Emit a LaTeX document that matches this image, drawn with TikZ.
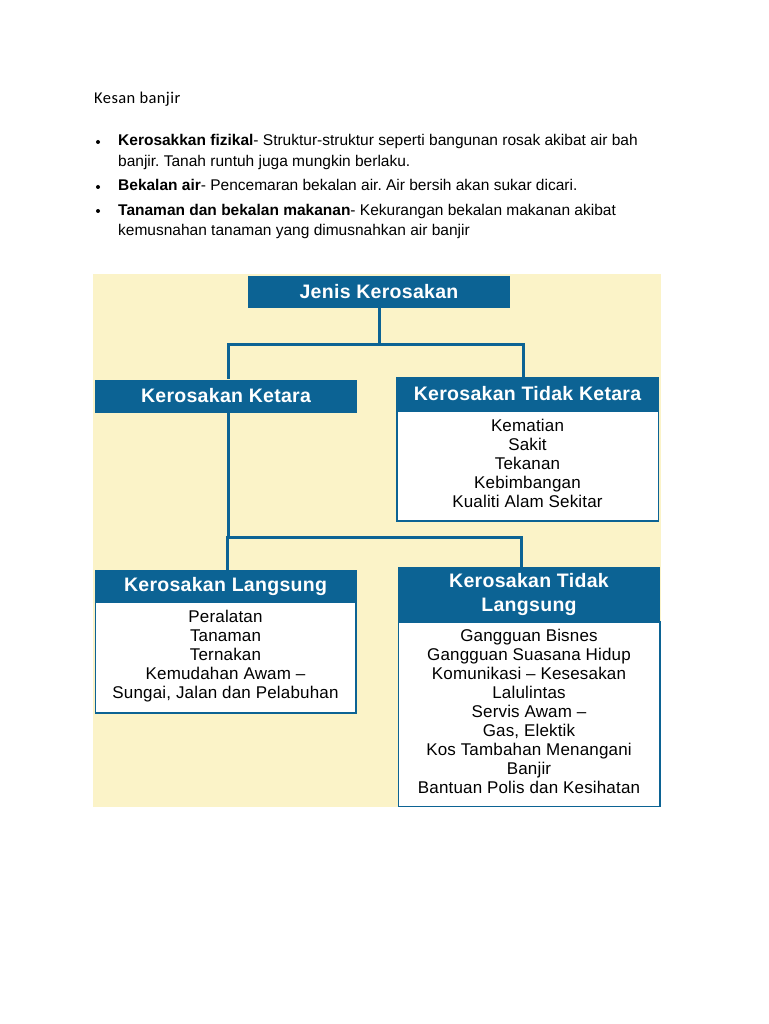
\documentclass[tikz,border=0pt]{standalone}
\usepackage{fontspec}
\setmainfont{Liberation Sans}
\newfontfamily\hdrfont[LetterSpace=1.5]{Liberation Sans}
\newfontfamily\bodyfont[LetterSpace=1]{Liberation Sans}
\newfontfamily\titlefont[LetterSpace=2.5]{Carlito}
\definecolor{kblue}{RGB}{12,99,148}
\definecolor{kcream}{RGB}{251,243,200}
\frenchspacing
\begin{document}
\begin{tikzpicture}[x=1pt,y=-1pt,
  hdr/.style={fill=kblue,text=white,inner sep=0pt,font=\hdrfont\bfseries\fontsize{19.5}{24}\selectfont,align=center},
  bodybox/.style={fill=white,draw=kblue,line width=1.5pt},
  bodytxt/.style={inner sep=0pt,font=\bodyfont\fontsize{17}{19.1}\selectfont,align=center,anchor=north},
  conn/.style={draw=kblue,line width=3pt},
  para/.style={inner sep=0pt,anchor=base west,font=\fontsize{15.5}{19}\selectfont},
  dot/.style={circle,fill=black,inner sep=0pt,minimum size=4pt}]
\useasboundingbox (0,0) rectangle (768,1024);
\fill[white] (0,0) rectangle (768,1024);
% text above
\node[inner sep=0pt,anchor=base west,font=\titlefont\fontsize{16.5}{19}\selectfont] (title) at (94,104) {Kesan banjir};
\node[dot] (b1) at (98,142) {};
\node[dot] (b2) at (98,187) {};
\node[dot] (b3) at (98,211) {};
\node[para] (p1) at (118,146) {\textbf{Kerosakkan fizikal}- Struktur-struktur seperti bangunan rosak akibat air bah};
\node[para] (p1b) at (118,167) {banjir. Tanah runtuh juga mungkin berlaku.};
\node[para] (p2) at (118,191) {\textbf{Bekalan air}- Pencemaran bekalan air. Air bersih akan sukar dicari.};
\node[para] (p3) at (118,215) {\textbf{Tanaman dan bekalan makanan}- Kekurangan bekalan makanan akibat};
\node[para] (p3b) at (118,236) {kemusnahan tanaman yang dimusnahkan air banjir};
% background
\fill[kcream] (93,274) rectangle (661,807);
% body boxes
\draw[bodybox] (397,411) rectangle (658.5,521);
\draw[bodybox] (95.5,602) rectangle (356,713);
\draw[bodybox] (398.5,622) rectangle (660,806.5);
% headers
\node[hdr,minimum width=262pt,minimum height=32pt] (jenis) at (379,292) {Jenis Kerosakan};
\node[hdr,minimum width=262pt,minimum height=33pt] (ketara) at (226,396) {Kerosakan Ketara};
\node[hdr,minimum width=263pt,minimum height=34pt] (tketara) at (527.5,394) {Kerosakan Tidak Ketara};
\node[hdr,minimum width=262pt,minimum height=32pt] (langsung) at (225.5,586) {Kerosakan Langsung};
\node[hdr,minimum width=262pt,minimum height=55pt] (tlangsung) at (529,594.5) {Kerosakan Tidak\\Langsung};
% connectors
\draw[conn] (jenis.south) |- (229,344) -| ([xshift=2pt]ketara.north);
\draw[conn] (jenis.south) |- (523,344) -| ([xshift=-4.5pt]tketara.north);
\draw[conn] ([xshift=2pt]ketara.south) |- (521,537) -| ([xshift=-8pt]tlangsung.north);
\draw[conn] ([xshift=2pt]ketara.south) |- (227.5,537) -- ([xshift=2pt]langsung.north);
% body texts
\node[bodytxt] (tkbody) at (527.5,419) {Kematian\\Sakit\\Tekanan\\Kebimbangan\\Kualiti Alam Sekitar};
\node[bodytxt] (lbody) at (225.5,610) {Peralatan\\Tanaman\\Ternakan\\Kemudahan Awam –\\Sungai, Jalan dan Pelabuhan};
\node[bodytxt] (tlbody) at (529,628.5) {Gangguan Bisnes\\Gangguan Suasana Hidup\\Komunikasi – Kesesakan\\Lalulintas\\Servis Awam –\\Gas, Elektik\\Kos Tambahan Menangani\\Banjir\\Bantuan Polis dan Kesihatan};
\end{tikzpicture}
\end{document}
